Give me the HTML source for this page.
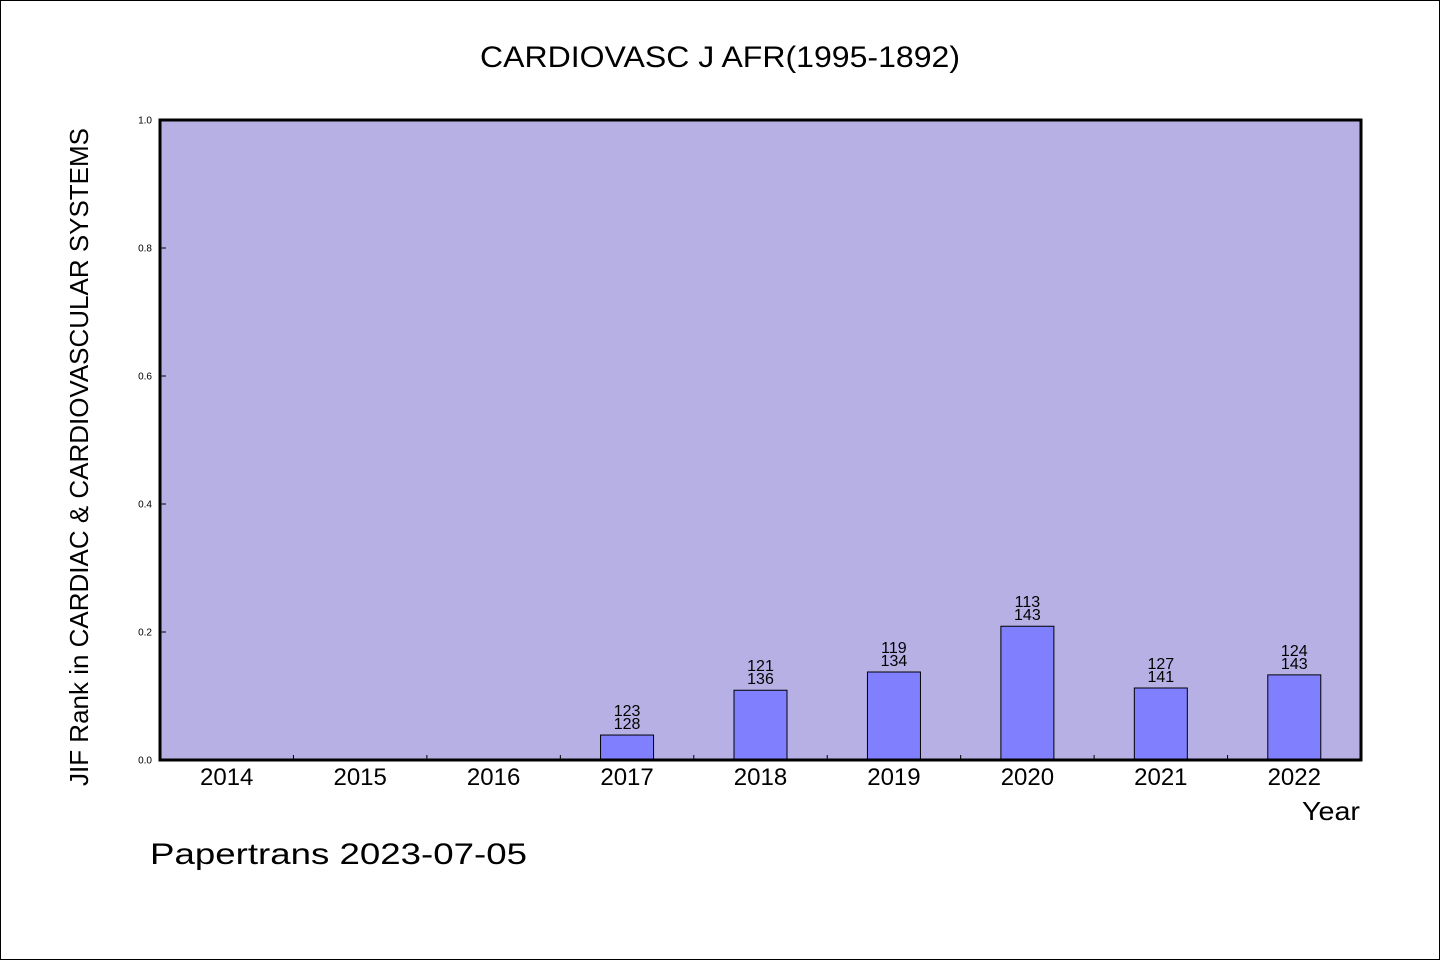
<!DOCTYPE html>
<html><head><meta charset="utf-8"><style>
html,body{margin:0;padding:0;background:#fff}
svg{display:block}
text{font-family:"WenQuanYi Zen Hei","Liberation Sans",sans-serif;fill:#000}
</style></head><body>
<svg id="chart" width="1440" height="960" viewBox="0 0 1440 960" xmlns="http://www.w3.org/2000/svg">
<rect x="0.5" y="0.5" width="1439" height="959" fill="#fff" stroke="#000"/>
<text x="720" y="67" font-size="30" text-anchor="middle" textLength="480" lengthAdjust="spacingAndGlyphs">CARDIOVASC J AFR(1995-1892)</text>
<rect x="160" y="120" width="1201" height="640" fill="#b6b0e4"/>
<g id="marks"></g>
<rect x="160" y="120" width="1201" height="640" fill="none" stroke="#000" stroke-width="3"/>
<text transform="translate(88,457) rotate(-90)" font-size="26" text-anchor="middle" textLength="658" lengthAdjust="spacingAndGlyphs">JIF Rank in CARDIAC &amp; CARDIOVASCULAR SYSTEMS</text>
<text x="1360" y="820" font-size="26" text-anchor="end" textLength="58" lengthAdjust="spacingAndGlyphs">Year</text>
<text x="150" y="864" font-size="30" textLength="377" lengthAdjust="spacingAndGlyphs">Papertrans 2023-07-05</text>
</svg>
<script>
const categories=["2014","2015","2016","2017","2018","2019","2020","2021","2022"];
const values=[null,null,null,0.039,0.109,0.1375,0.209,0.1125,0.133];
const ranks=[null,null,null,"123","121","119","113","127","124"];
const totals=[null,null,null,"128","136","134","143","141","143"];
const yTicks=[0,0.2,0.4,0.6,0.8,1.0];
const yTickLabels=["0.0","0.2","0.4","0.6","0.8","1.0"];
const X0=160,X1=1361,Y0=760,Y1=120;
const bw=(X1-X0)/categories.length;
const xs=i=>X0+bw*(i+0.5);
const ys=v=>Y0-(v)*(Y0-Y1);
const g=document.getElementById('marks');
const NS="http://www.w3.org/2000/svg";
function mk(t,a){const e=document.createElementNS(NS,t);for(const k in a)e.setAttribute(k,a[k]);g.appendChild(e);return e;}
yTicks.forEach((v,i)=>{
  const l=mk('line',{x1:X0,x2:X0+6,y1:ys(v),y2:ys(v),stroke:'#000','stroke-width':1});
  
  
  const t=mk('text',{x:152,y:ys(v)+3.5,'font-size':10,'text-anchor':'end'});
  t.textContent=yTickLabels[i];
  
  
});
categories.forEach((c,i)=>{
  if(i>0){const l=mk('line',{x1:X0+bw*i,x2:X0+bw*i,y1:Y0,y2:Y0-5,stroke:'#000','stroke-width':1});
  
  }
  const t=mk('text',{x:xs(i),y:785,'font-size':24,'text-anchor':'middle'});
  t.textContent=c;
  
  
  const v=values[i];
  if(v!=null){
    const r=mk('rect',{x:xs(i)-26.5,y:ys(v),width:53,height:Y0-ys(v),fill:'#8080ff',stroke:'#000','stroke-width':1});
    
    
    const a=mk('text',{x:xs(i),y:ys(v)-19,'font-size':16,'text-anchor':'middle'});
    a.textContent=ranks[i];
    
    
    const b=mk('text',{x:xs(i),y:ys(v)-6,'font-size':16,'text-anchor':'middle'});
    b.textContent=totals[i];
    
    
  }
});
</script>
</body></html>
